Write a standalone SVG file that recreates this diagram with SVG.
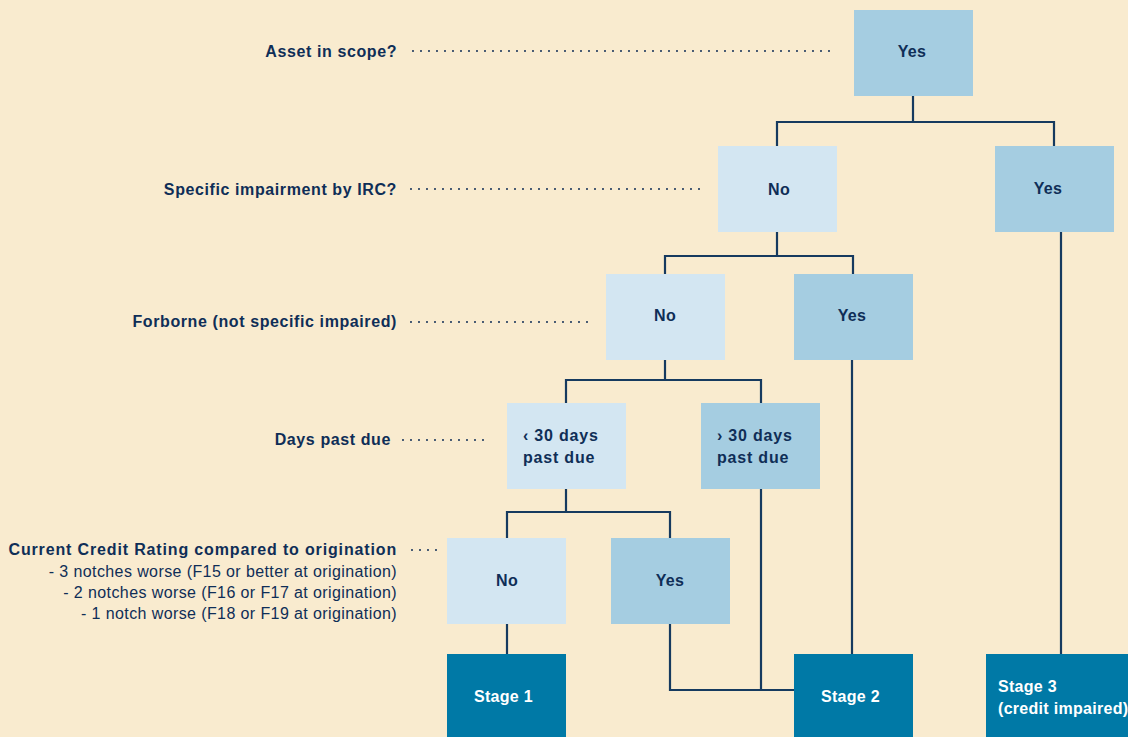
<svg xmlns="http://www.w3.org/2000/svg" width="1128" height="737" viewBox="0 0 1128 737">
<style>
.bg{fill:#F9EBCF}
.light{fill:#D3E6F2}
.mid{fill:#A5CDE1}
.dark{fill:#0079A6}
.q{font-family:"Liberation Sans",Arial,sans-serif;font-weight:bold;font-size:16px;letter-spacing:0.6px;fill:#0F2E57;text-anchor:end}
.sub{font-family:"Liberation Sans",Arial,sans-serif;font-size:16px;letter-spacing:0.4px;fill:#0F2E57;text-anchor:end}
.t{font-family:"Liberation Sans",Arial,sans-serif;font-weight:bold;font-size:16px;letter-spacing:0.3px;fill:#0F2E57;text-anchor:middle}
.tl{font-family:"Liberation Sans",Arial,sans-serif;font-weight:bold;font-size:16px;letter-spacing:0.8px;fill:#0F2E57}
.w{font-family:"Liberation Sans",Arial,sans-serif;font-weight:bold;font-size:16px;letter-spacing:0.3px;fill:#FFFFFF}
.lead{stroke:#0F2E57;stroke-width:2;stroke-linecap:round;stroke-dasharray:0 8;fill:none}
.c{stroke:#163A5F;stroke-width:2.2;fill:none}
</style>
<rect class="bg" x="0" y="0" width="1128" height="737"/>

<g id="labels">
<text class="q" x="397" y="57">Asset in scope?</text>
<text class="q" x="397" y="195">Specific impairment by IRC?</text>
<text class="q" x="397" y="327">Forborne (not specific impaired)</text>
<text class="q" x="391" y="445">Days past due</text>
<text class="q" x="397" y="555" style="letter-spacing:0.85px">Current Credit Rating compared to origination</text>
<text class="sub" x="397" y="577">- 3 notches worse (F15 or better at origination)</text>
<text class="sub" x="397" y="598">- 2 notches worse (F16 or F17 at origination)</text>
<text class="sub" x="397" y="619">- 1 notch worse (F18 or F19 at origination)</text>
</g>

<g id="leaders">
<line class="lead" x1="413" y1="51" x2="831" y2="51"/>
<line class="lead" x1="411" y1="189" x2="707" y2="189"/>
<line class="lead" x1="411" y1="322" x2="595" y2="322"/>
<line class="lead" x1="403" y1="440" x2="491" y2="440"/>
<line class="lead" x1="412" y1="550" x2="437" y2="550"/>
</g>

<g id="connectors">
<polyline class="c" points="913,96 913,122"/>
<polyline class="c" points="777,146 777,122 1054,122 1054,146"/>
<polyline class="c" points="777,232 777,256"/>
<polyline class="c" points="665,274 665,256 853,256 853,274"/>
<polyline class="c" points="665,360 665,380"/>
<polyline class="c" points="566,403 566,380 761,380 761,403"/>
<polyline class="c" points="566,489 566,512"/>
<polyline class="c" points="507,538 507,512 670,512 670,538"/>
<polyline class="c" points="507,624 507,654"/>
<polyline class="c" points="670,624 670,690 794,690"/>
<polyline class="c" points="761,489 761,690"/>
<polyline class="c" points="852,360 852,654"/>
<polyline class="c" points="1061,232 1061,654"/>
</g>

<g id="n-asset-yes"><rect class="mid" x="854" y="10" width="119" height="86"/><text class="t" x="912" y="57">Yes</text></g>
<g id="n-irc-no"><rect class="light" x="718" y="146" width="119" height="86"/><text class="t" x="779" y="195">No</text></g>
<g id="n-irc-yes"><rect class="mid" x="995" y="146" width="119" height="86"/><text class="t" x="1048" y="194">Yes</text></g>
<g id="n-forb-no"><rect class="light" x="606" y="274" width="119" height="86"/><text class="t" x="665" y="321">No</text></g>
<g id="n-forb-yes"><rect class="mid" x="794" y="274" width="119" height="86"/><text class="t" x="852" y="321">Yes</text></g>
<g id="n-lt30"><rect class="light" x="507" y="403" width="119" height="86"/><text class="tl" x="523" y="441">‹ 30 days</text><text class="tl" x="523" y="463">past due</text></g>
<g id="n-gt30"><rect class="mid" x="701" y="403" width="119" height="86"/><text class="tl" x="717" y="441">› 30 days</text><text class="tl" x="717" y="463">past due</text></g>
<g id="n-cr-no"><rect class="light" x="447" y="538" width="119" height="86"/><text class="t" x="507" y="586">No</text></g>
<g id="n-cr-yes"><rect class="mid" x="611" y="538" width="119" height="86"/><text class="t" x="670" y="586">Yes</text></g>
<g id="n-stage1"><rect class="dark" x="447" y="654" width="119" height="90"/><text class="w" x="474" y="702">Stage 1</text></g>
<g id="n-stage2"><rect class="dark" x="794" y="654" width="119" height="90"/><text class="w" x="821" y="702">Stage 2</text></g>
<g id="n-stage3"><rect class="dark" x="986" y="654" width="150" height="90"/><text class="w" x="998" y="692">Stage 3</text><text class="w" x="998" y="714">(credit impaired)</text></g>
</svg>
